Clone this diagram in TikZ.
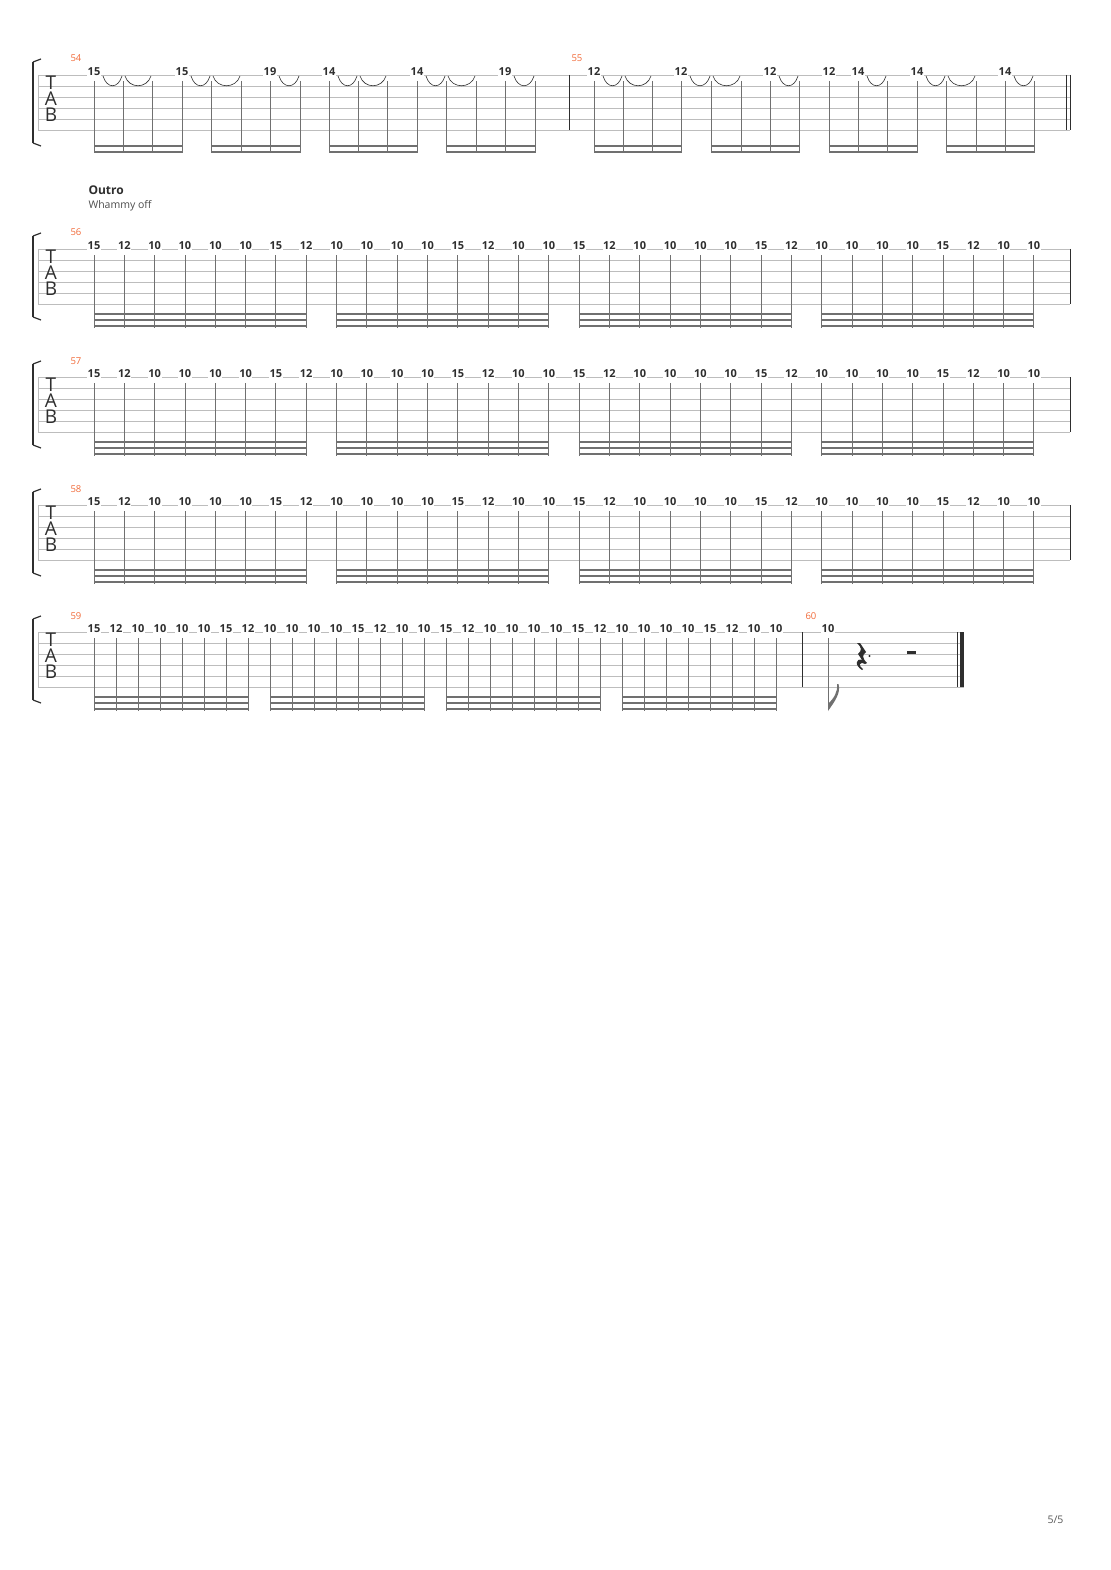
\documentclass[tikz,border=0pt]{standalone}
\usepackage{fontspec}
\setmainfont{Open Sans}[BoldFont={* Bold}]
\definecolor{orng}{HTML}{F26B3A}
\definecolor{stf}{HTML}{BDBDBD}
\definecolor{stm}{HTML}{707070}
\definecolor{txt}{HTML}{2E2E2E}
\tikzset{
 fret/.style={font=\fontsize{11}{12}\selectfont\bfseries,text=txt,fill=white,inner sep=0.6pt},
 mnum/.style={font=\fontsize{9.5}{10}\selectfont,text=orng,anchor=base west},
 tabl/.style={font=\fontsize{19}{19}\selectfont,text=txt},
 stemline/.style={draw=stm,line width=0.9pt},
 beam/.style={draw=stm,line width=2.3pt},
 tie/.style={draw=txt,line width=0.6pt},
 staffline/.style={draw=stf,line width=0.7pt},
 barl/.style={draw=txt,line width=0.9pt}
}
\newcommand{\tabstaff}[2]{% top, xend
 \foreach \k in {0,...,5} \draw[staffline] (38,#1+\k*11) -- (#2,#1+\k*11);
 \draw[line width=1.6pt,txt] (33,#1-13) -- (33,#1+68);
 \draw[line width=1.2pt,txt] (33,#1-13) -- (41,#1-16);
 \draw[line width=1.2pt,txt] (33,#1+68) -- (41,#1+71);
 \draw[line width=0.6pt,stf] (38,#1) -- (38,#1+55);
 \node[tabl] at (51,#1+8) {T};
 \node[tabl] at (51,#1+24) {A};
 \node[tabl] at (51,#1+40) {B};
}
\begin{document}
\begin{tikzpicture}[x=1pt,y=-1pt]
\fill[white] (0,0) rectangle (1110,1570);
\useasboundingbox (0,0) rectangle (1110,1570);
% ---------- system 1 ----------
\tabstaff{75}{1070}
\node[mnum] (m54) at (67,62) {54};
\node[mnum] (m55) at (568,62) {55};
\draw[barl] (569,75) -- (569,130);
\draw[line width=0.7pt,txt] (1066,75) -- (1066,130);
\draw[line width=0.9pt,txt] (1070,75) -- (1070,130);
\foreach \x in {94,123,152,182,211,241,270,300,329,358,387,417,446,476,505,535,594,623,652,681,711,741,770,799,829,858,887,917,946,976,1005,1034}
 \draw[stemline] (\x,81) -- (\x,153);
\foreach \a/\b in {94/182,211/300,329/417,446/535,594/681,711/799,829/917,946/1034}{
 \draw[beam] (\a,146) -- (\b,146);
 \draw[beam] (\a,152) -- (\b,152);}
\foreach \a/\b/\s in {94/123/9,123/152/2,182/211/9,211/241/2,270/300/9,329/358/9,358/387/2,417/446/9,446/476/2,505/535/9,594/623/9,623/652/2,681/711/9,711/741/2,770/799/9,858/887/9,917/946/9,946/976/2,1005/1034/9}
 \draw[tie] (\a+\s,76) .. controls (\a+\s+4,89) and (\b-5,89) .. (\b-1,76);
\foreach \x/\n [count=\i] in {94/15,182/15,270/19,329/14,417/14,505/19,594/12,681/12,770/12,829/12,858/14,917/14,1005/14}
 \node[fret] (a\i) at (\x,72) {\n};
% ---------- outro label ----------
\node[anchor=base west,font=\fontsize{12}{13}\selectfont\bfseries,text=txt] (outro) at (85,195) {Outro};
\node[anchor=base west,font=\fontsize{10.5}{12}\selectfont,text=txt!85] (wham) at (85,209) {Whammy off};
% ---------- systems 2-4 ----------
\foreach \t/\m [count=\s] in {249/56,377/57,505/58}{
 \tabstaff{\t}{1070}
 \node[mnum] (mn\s) at (67,\t-13) {\m};
 \draw[line width=0.9pt,txt] (1070,\t) -- (1070,\t+55);
 \foreach \n [count=\i from 0] in {15,12,10,10,10,10,15,12,10,10,10,10,15,12,10,10,15,12,10,10,10,10,15,12,10,10,10,10,15,12,10,10}{
   \draw[stemline] (94+\i*30.32,\t+6) -- (94+\i*30.32,\t+79);
   \node[fret] (s\s n\i) at (94+\i*30.32,\t-3) {\n};}
 \foreach \g in {0,8,16,24}
  \foreach \d in {65,71,77}
   \draw[beam] (94+\g*30.32,\t+\d) -- (94+\g*30.32+7*30.32,\t+\d);
}
% ---------- system 5 ----------
\tabstaff{632}{964}
\node[mnum] (m59) at (67,619) {59};
\node[mnum] (m60) at (802,619) {60};
\draw[barl] (802,632) -- (802,687);
\foreach \n [count=\i from 0] in {15,12,10,10,10,10,15,12,10,10,10,10,15,12,10,10,15,12,10,10,10,10,15,12,10,10,10,10,15,12,10,10}{
  \draw[stemline] (94+\i*22,638) -- (94+\i*22,711);
  \node[fret] (f\i) at (94+\i*22,629) {\n};}
\foreach \g in {0,8,16,24}
 \foreach \d in {697,703,709}
  \draw[beam] (94+\g*22,\d) -- (94+\g*22+7*22,\d);
\draw[stemline] (828,638) -- (828,710);
\fill[stm] (828,711) -- (828,704) .. controls (834,698) and (838,692) .. (837,684)
   -- (838.5,684) .. controls (841,693) and (835,701) .. (828,711) -- cycle;
\node[fret] (f60) at (828,629) {10};
% quarter rest with dot
\fill[txt] (857,643) -- (860,643) -- (866,652) .. controls (862,655) and (862,658) .. (867,663)
  -- (865,664) .. controls (859,661) and (858,666) .. (863,669) -- (862,670)
  .. controls (854,665) and (856,658) .. (862,660) -- (858,654) .. controls (862,650) and (862,648) .. (857,643) -- cycle;
\fill[txt] (869.5,656) circle (1.2);
% half rest
\fill[txt] (906.5,650.5) rectangle (915.5,654.3);
% final barline
\draw[line width=0.8pt,txt] (957,632) -- (957,687);
\fill[txt] (960,632) rectangle (964,687);
% page number
\node[anchor=base east,font=\fontsize{10.5}{12}\selectfont,text=txt!80] (pg) at (1067,1523) {5/5};
\end{tikzpicture}
\end{document}
